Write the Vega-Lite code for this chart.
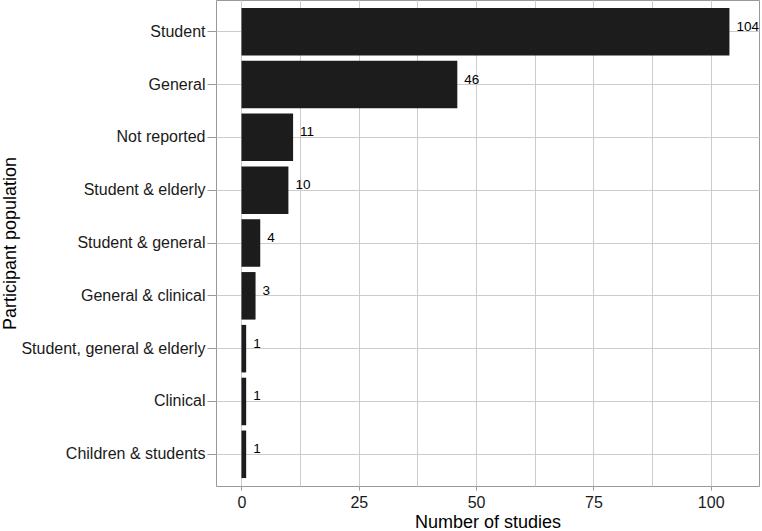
{
  "$schema": "https://vega.github.io/schema/vega-lite/v6.json",
  "autosize": "none",
  "width": 543,
  "height": 486,
  "padding": {"left": 216, "top": 0, "right": 3, "bottom": 45},
  "background": "white",
  "config": {
    "font": "Liberation Sans",
    "view": {"stroke": "#999999", "strokeWidth": 1}
  },
  "data": {
    "values": [
      {"population": "Student", "n": 104},
      {"population": "General", "n": 46},
      {"population": "Not reported", "n": 11},
      {"population": "Student & elderly", "n": 10},
      {"population": "Student & general", "n": 4},
      {"population": "General & clinical", "n": 3},
      {"population": "Student, general & elderly", "n": 1},
      {"population": "Clinical", "n": 1},
      {"population": "Children & students", "n": 1}
    ]
  },
  "encoding": {
    "y": {
      "field": "population",
      "type": "nominal",
      "sort": null,
      "title": "Participant population",
      "scale": {"paddingInner": 0.1, "paddingOuter": 0.15},
      "axis": {
        "bandPosition": 0.5,
        "domain": false,
        "grid": true,
        "gridColor": "#cccccc",
        "gridWidth": 1,
        "tickColor": "#999999",
        "tickSize": 9,
        "labelFontSize": 16,
        "labelLimit": 0,
        "labelColor": "#1a1a1a",
        "labelPadding": 2,
        "titleFontSize": 18,
        "titleFontWeight": "normal",
        "titleColor": "#000000",
        "titleAngle": -90,
        "titleX": -215,
        "titleY": 243,
        "titleAlign": "center",
        "titleBaseline": "top"
      }
    },
    "x": {
      "field": "n",
      "type": "quantitative",
      "title": "Number of studies",
      "scale": {"domain": [-5.43, 110.3], "nice": false, "zero": false},
      "axis": {
        "values": [0, 12.5, 25, 37.5, 50, 62.5, 75, 87.5, 100],
        "labelExpr": "datum.value % 25 == 0 ? datum.label : ''",
        "format": "d",
        "domain": false,
        "grid": true,
        "gridColor": "#cccccc",
        "gridWidth": 1,
        "ticks": true,
        "tickSize": 4,
        "tickColor": "#999999",
        "tickOpacity": {"condition": {"test": "datum.value % 25 == 0", "value": 1}, "value": 0},
        "labelFontSize": 16,
        "labelColor": "#1a1a1a",
        "labelPadding": 4,
        "titleFontSize": 18,
        "titleFontWeight": "normal",
        "titleColor": "#000000",
        "titlePadding": 3
      }
    }
  },
  "layer": [
    {
      "mark": {"type": "bar", "color": "#1c1c1c"},
      "encoding": {"x2": {"datum": 0}}
    },
    {
      "mark": {"type": "text", "align": "left", "baseline": "middle", "dx": 7, "dy": -5, "fontSize": 13.5, "color": "#000000"},
      "encoding": {"text": {"field": "n", "type": "quantitative"}}
    }
  ]
}
